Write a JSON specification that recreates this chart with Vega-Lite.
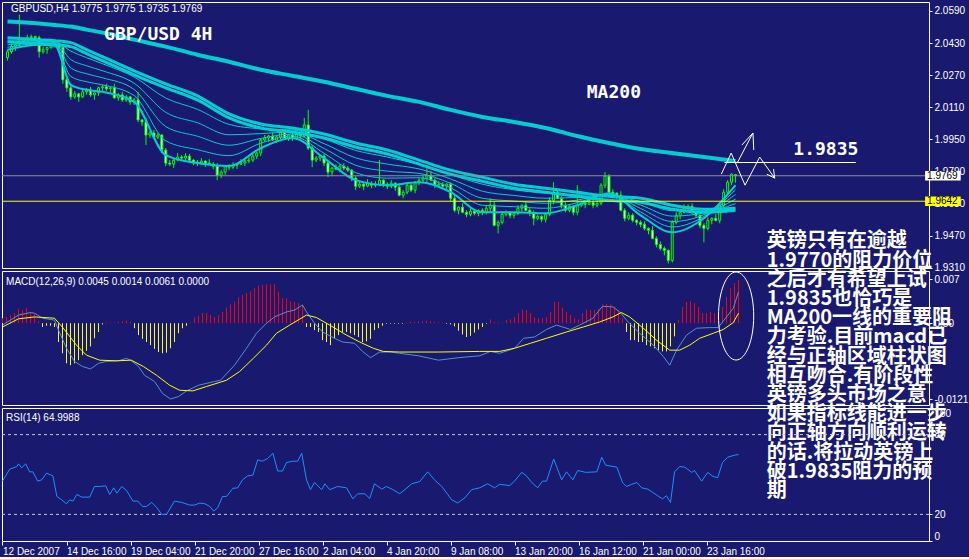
{
"$schema":"https://vega.github.io/schema/vega-lite/v6.json",
"background":"#191970",
"padding":{"left":1,"top":1,"right":0,"bottom":0},
"bounds":"flush",
"spacing":3,
"config":{
 "view":{"stroke":"#ffffff","strokeWidth":1},
 "axis":{"domain":false,"grid":false,"title":null,"labelColor":"#ffffff","tickColor":"#ffffff","labelFont":"Liberation Sans","labelFontSize":10,"tickSize":3,"labelPadding":2,"zindex":0,"labelOverlap":false,"tickCount":30}
},
"datasets":{
"one":[{}],
"c":[
{"i":0,"o":2.0357,"h":2.0397,"l":2.0342,"c":2.0387,"m":0.0008},
{"i":1,"o":2.0387,"h":2.0427,"l":2.0377,"c":2.0412,"m":0.001},
{"i":2,"o":2.0412,"h":2.0427,"l":2.0392,"c":2.0422,"m":0.0013},
{"i":3,"o":2.0422,"h":2.0572,"l":2.0417,"c":2.0437,"m":0.0016},
{"i":4,"o":2.0437,"h":2.0457,"l":2.0422,"c":2.0447,"m":0.0023},
{"i":5,"o":2.0447,"h":2.0472,"l":2.0437,"c":2.0457,"m":0.0021},
{"i":6,"o":2.0457,"h":2.0472,"l":2.0447,"c":2.0462,"m":0.0024},
{"i":7,"o":2.0462,"h":2.0467,"l":2.0442,"c":2.0457,"m":0.0018},
{"i":8,"o":2.0457,"h":2.0467,"l":2.0357,"c":2.0387,"m":0.0015},
{"i":9,"o":2.0387,"h":2.0412,"l":2.0377,"c":2.0397,"m":0.0003},
{"i":10,"o":2.0397,"h":2.0412,"l":2.0377,"c":2.0407,"m":-0.0006},
{"i":11,"o":2.0407,"h":2.0442,"l":2.0402,"c":2.0422,"m":-0.0004},
{"i":12,"o":2.0422,"h":2.0437,"l":2.0407,"c":2.0427,"m":-0.0004},
{"i":13,"o":2.0427,"h":2.0442,"l":2.0397,"c":2.0407,"m":-0.0006},
{"i":14,"o":2.0407,"h":2.0417,"l":2.0227,"c":2.0247,"m":-0.003},
{"i":15,"o":2.0247,"h":2.0252,"l":2.0187,"c":2.0207,"m":-0.0048},
{"i":16,"o":2.0207,"h":2.0217,"l":2.0147,"c":2.0162,"m":-0.0064},
{"i":17,"o":2.0162,"h":2.0192,"l":2.0152,"c":2.0177,"m":-0.0067},
{"i":18,"o":2.0177,"h":2.0182,"l":2.0137,"c":2.0162,"m":-0.0064},
{"i":19,"o":2.0162,"h":2.0207,"l":2.0157,"c":2.0187,"m":-0.0059},
{"i":20,"o":2.0187,"h":2.0207,"l":2.0172,"c":2.0197,"m":-0.0051},
{"i":21,"o":2.0197,"h":2.0212,"l":2.0162,"c":2.0172,"m":-0.0044},
{"i":22,"o":2.0172,"h":2.0192,"l":2.0147,"c":2.0182,"m":-0.0037},
{"i":23,"o":2.0182,"h":2.0212,"l":2.0167,"c":2.0207,"m":-0.0024},
{"i":24,"o":2.0207,"h":2.0222,"l":2.0192,"c":2.0212,"m":-0.0014},
{"i":25,"o":2.0212,"h":2.0227,"l":2.0192,"c":2.0202,"m":-0.0002},
{"i":26,"o":2.0202,"h":2.0212,"l":2.0182,"c":2.0207,"m":0.0001},
{"i":27,"o":2.0207,"h":2.0227,"l":2.0152,"c":2.0157,"m":0.0001},
{"i":28,"o":2.0157,"h":2.0182,"l":2.0142,"c":2.0172,"m":0.0001},
{"i":29,"o":2.0172,"h":2.0187,"l":2.0137,"c":2.0147,"m":0.0002},
{"i":30,"o":2.0147,"h":2.0172,"l":2.0137,"c":2.0162,"m":0.0003},
{"i":31,"o":2.0162,"h":2.0167,"l":2.0122,"c":2.0137,"m":0.0004},
{"i":32,"o":2.0137,"h":2.0157,"l":2.0122,"c":2.0147,"m":0.0002},
{"i":33,"o":2.0147,"h":2.0187,"l":2.0037,"c":2.0047,"m":-0.0008},
{"i":34,"o":2.0047,"h":2.0052,"l":2.0017,"c":2.0037,"m":-0.0019},
{"i":35,"o":2.0037,"h":2.0057,"l":1.9922,"c":1.9972,"m":-0.0025},
{"i":36,"o":1.9972,"h":1.9992,"l":1.9957,"c":1.9982,"m":-0.003},
{"i":37,"o":1.9982,"h":1.9997,"l":1.9952,"c":1.9962,"m":-0.0035},
{"i":38,"o":1.9962,"h":1.9982,"l":1.9952,"c":1.9972,"m":-0.0041},
{"i":39,"o":1.9972,"h":1.9977,"l":1.9882,"c":1.9897,"m":-0.0046},
{"i":40,"o":1.9897,"h":1.9907,"l":1.9817,"c":1.9832,"m":-0.0048},
{"i":41,"o":1.9832,"h":1.9847,"l":1.9817,"c":1.9827,"m":-0.0047},
{"i":42,"o":1.9827,"h":1.9852,"l":1.9807,"c":1.9847,"m":-0.004},
{"i":43,"o":1.9847,"h":1.9882,"l":1.9842,"c":1.9862,"m":-0.003},
{"i":44,"o":1.9862,"h":1.9872,"l":1.9842,"c":1.9857,"m":-0.0016},
{"i":45,"o":1.9857,"h":1.9882,"l":1.9847,"c":1.9867,"m":-0.0008},
{"i":46,"o":1.9867,"h":1.9877,"l":1.9837,"c":1.9847,"m":-0.0004},
{"i":47,"o":1.9847,"h":1.9852,"l":1.9822,"c":1.9837,"m":0.0001},
{"i":48,"o":1.9837,"h":1.9847,"l":1.9817,"c":1.9832,"m":0.0009},
{"i":49,"o":1.9832,"h":1.9857,"l":1.9822,"c":1.9842,"m":0.0012},
{"i":50,"o":1.9842,"h":1.9847,"l":1.9812,"c":1.9832,"m":0.0016},
{"i":51,"o":1.9832,"h":1.9852,"l":1.9822,"c":1.9827,"m":0.0016},
{"i":52,"o":1.9827,"h":1.9837,"l":1.9802,"c":1.9817,"m":0.0013},
{"i":53,"o":1.9817,"h":1.9832,"l":1.9747,"c":1.9772,"m":0.001},
{"i":54,"o":1.9772,"h":1.9797,"l":1.9757,"c":1.9787,"m":0.0013},
{"i":55,"o":1.9787,"h":1.9822,"l":1.9772,"c":1.9817,"m":0.0018},
{"i":56,"o":1.9817,"h":1.9827,"l":1.9797,"c":1.9812,"m":0.0025},
{"i":57,"o":1.9812,"h":1.9837,"l":1.9802,"c":1.9822,"m":0.003},
{"i":58,"o":1.9822,"h":1.9832,"l":1.9802,"c":1.9827,"m":0.0035},
{"i":59,"o":1.9827,"h":1.9852,"l":1.9822,"c":1.9832,"m":0.0041},
{"i":60,"o":1.9832,"h":1.9852,"l":1.9817,"c":1.9842,"m":0.0045},
{"i":61,"o":1.9842,"h":1.9862,"l":1.9832,"c":1.9847,"m":0.0048},
{"i":62,"o":1.9847,"h":1.9877,"l":1.9837,"c":1.9867,"m":0.0051},
{"i":63,"o":1.9867,"h":1.9887,"l":1.9852,"c":1.9882,"m":0.0056},
{"i":64,"o":1.9882,"h":1.9957,"l":1.9867,"c":1.9947,"m":0.006},
{"i":65,"o":1.9947,"h":1.9972,"l":1.9937,"c":1.9957,"m":0.0061},
{"i":66,"o":1.9957,"h":1.9972,"l":1.9937,"c":1.9967,"m":0.0062},
{"i":67,"o":1.9967,"h":1.9987,"l":1.9942,"c":1.9947,"m":0.0062},
{"i":68,"o":1.9947,"h":1.9972,"l":1.9932,"c":1.9962,"m":0.0062},
{"i":69,"o":1.9962,"h":2.0002,"l":1.9952,"c":1.9987,"m":0.005},
{"i":70,"o":1.9987,"h":1.9997,"l":1.9947,"c":1.9957,"m":0.004},
{"i":71,"o":1.9957,"h":1.9977,"l":1.9942,"c":1.9972,"m":0.004},
{"i":72,"o":1.9972,"h":1.9982,"l":1.9942,"c":1.9957,"m":0.0035},
{"i":73,"o":1.9957,"h":1.9992,"l":1.9947,"c":1.9977,"m":0.0034},
{"i":74,"o":1.9977,"h":1.9982,"l":1.9947,"c":1.9967,"m":0.0032},
{"i":75,"o":1.9967,"h":2.0057,"l":1.9962,"c":2.0022,"m":0.003},
{"i":76,"o":2.0022,"h":2.0097,"l":1.9897,"c":1.9907,"m":-0.0006},
{"i":77,"o":1.9907,"h":1.9922,"l":1.9812,"c":1.9847,"m":-0.0006},
{"i":78,"o":1.9847,"h":1.9867,"l":1.9837,"c":1.9857,"m":-0.0011},
{"i":79,"o":1.9857,"h":1.9872,"l":1.9842,"c":1.9867,"m":-0.0014},
{"i":80,"o":1.9867,"h":1.9877,"l":1.9817,"c":1.9832,"m":-0.0027},
{"i":81,"o":1.9832,"h":1.9847,"l":1.9762,"c":1.9787,"m":-0.003},
{"i":82,"o":1.9787,"h":1.9812,"l":1.9767,"c":1.9807,"m":-0.0035},
{"i":83,"o":1.9807,"h":1.9827,"l":1.9797,"c":1.9802,"m":-0.0024},
{"i":84,"o":1.9802,"h":1.9827,"l":1.9787,"c":1.9817,"m":-0.0019},
{"i":85,"o":1.9817,"h":1.9832,"l":1.9797,"c":1.9807,"m":-0.0014},
{"i":86,"o":1.9807,"h":1.9817,"l":1.9787,"c":1.9797,"m":-0.0014},
{"i":87,"o":1.9797,"h":1.9802,"l":1.9742,"c":1.9757,"m":-0.0016},
{"i":88,"o":1.9757,"h":1.9767,"l":1.9697,"c":1.9717,"m":-0.0019},
{"i":89,"o":1.9717,"h":1.9742,"l":1.9707,"c":1.9727,"m":-0.0022},
{"i":90,"o":1.9727,"h":1.9732,"l":1.9697,"c":1.9717,"m":-0.003},
{"i":91,"o":1.9717,"h":1.9752,"l":1.9712,"c":1.9732,"m":-0.0029},
{"i":92,"o":1.9732,"h":1.9742,"l":1.9707,"c":1.9722,"m":-0.0025},
{"i":93,"o":1.9722,"h":1.9742,"l":1.9712,"c":1.9727,"m":-0.0011},
{"i":94,"o":1.9727,"h":1.9847,"l":1.9717,"c":1.9747,"m":-0.0008},
{"i":95,"o":1.9747,"h":1.9752,"l":1.9712,"c":1.9727,"m":-0.0004},
{"i":96,"o":1.9727,"h":1.9737,"l":1.9702,"c":1.9717,"m":-0.0001},
{"i":97,"o":1.9717,"h":1.9747,"l":1.9707,"c":1.9732,"m":-0.0001},
{"i":98,"o":1.9732,"h":1.9737,"l":1.9692,"c":1.9712,"m":-0.0001},
{"i":99,"o":1.9712,"h":1.9732,"l":1.9667,"c":1.9672,"m":-0.0001},
{"i":100,"o":1.9672,"h":1.9697,"l":1.9657,"c":1.9687,"m":-0.0001},
{"i":101,"o":1.9687,"h":1.9737,"l":1.9677,"c":1.9722,"m":0.0001},
{"i":102,"o":1.9722,"h":1.9732,"l":1.9687,"c":1.9697,"m":0.0002},
{"i":103,"o":1.9697,"h":1.9742,"l":1.9682,"c":1.9737,"m":0.0002},
{"i":104,"o":1.9737,"h":1.9757,"l":1.9722,"c":1.9747,"m":0.0003},
{"i":105,"o":1.9747,"h":1.9772,"l":1.9737,"c":1.9757,"m":0.0003},
{"i":106,"o":1.9757,"h":1.9812,"l":1.9737,"c":1.9772,"m":0.0004},
{"i":107,"o":1.9772,"h":1.9792,"l":1.9742,"c":1.9747,"m":0.0003},
{"i":108,"o":1.9747,"h":1.9757,"l":1.9707,"c":1.9722,"m":0.0002},
{"i":109,"o":1.9722,"h":1.9742,"l":1.9712,"c":1.9727,"m":0.0001},
{"i":110,"o":1.9727,"h":1.9737,"l":1.9707,"c":1.9717,"m":0.0001},
{"i":111,"o":1.9717,"h":1.9732,"l":1.9702,"c":1.9727,"m":-0.0001},
{"i":112,"o":1.9727,"h":1.9737,"l":1.9642,"c":1.9657,"m":-0.0002},
{"i":113,"o":1.9657,"h":1.9672,"l":1.9587,"c":1.9597,"m":-0.0005},
{"i":114,"o":1.9597,"h":1.9617,"l":1.9577,"c":1.9612,"m":-0.0012},
{"i":115,"o":1.9612,"h":1.9632,"l":1.9582,"c":1.9587,"m":-0.0018},
{"i":116,"o":1.9587,"h":1.9597,"l":1.9562,"c":1.9577,"m":-0.0022},
{"i":117,"o":1.9577,"h":1.9607,"l":1.9567,"c":1.9592,"m":-0.002},
{"i":118,"o":1.9592,"h":1.9602,"l":1.9572,"c":1.9582,"m":-0.0015},
{"i":119,"o":1.9582,"h":1.9602,"l":1.9567,"c":1.9597,"m":-0.001},
{"i":120,"o":1.9597,"h":1.9607,"l":1.9572,"c":1.9587,"m":-0.0006},
{"i":121,"o":1.9587,"h":1.9622,"l":1.9577,"c":1.9607,"m":-0.0001},
{"i":122,"o":1.9607,"h":1.9657,"l":1.9587,"c":1.9622,"m":0.0006},
{"i":123,"o":1.9622,"h":1.9642,"l":1.9517,"c":1.9522,"m":0.0002},
{"i":124,"o":1.9522,"h":1.9547,"l":1.9482,"c":1.9537,"m":0.0001},
{"i":125,"o":1.9537,"h":1.9592,"l":1.9527,"c":1.9577,"m":0.0001},
{"i":126,"o":1.9577,"h":1.9597,"l":1.9567,"c":1.9587,"m":0.0005},
{"i":127,"o":1.9587,"h":1.9592,"l":1.9557,"c":1.9572,"m":0.0006},
{"i":128,"o":1.9572,"h":1.9592,"l":1.9557,"c":1.9582,"m":0.001},
{"i":129,"o":1.9582,"h":1.9622,"l":1.9572,"c":1.9607,"m":0.0016},
{"i":130,"o":1.9607,"h":1.9627,"l":1.9587,"c":1.9622,"m":0.0022},
{"i":131,"o":1.9622,"h":1.9642,"l":1.9592,"c":1.9597,"m":0.0021},
{"i":132,"o":1.9597,"h":1.9607,"l":1.9567,"c":1.9582,"m":0.0016},
{"i":133,"o":1.9582,"h":1.9597,"l":1.9522,"c":1.9557,"m":0.0009},
{"i":134,"o":1.9557,"h":1.9577,"l":1.9547,"c":1.9567,"m":0.0008},
{"i":135,"o":1.9567,"h":1.9572,"l":1.9537,"c":1.9552,"m":0.0008},
{"i":136,"o":1.9552,"h":1.9587,"l":1.9537,"c":1.9577,"m":0.001},
{"i":137,"o":1.9577,"h":1.9662,"l":1.9567,"c":1.9647,"m":0.0018},
{"i":138,"o":1.9647,"h":1.9737,"l":1.9627,"c":1.9687,"m":0.0034},
{"i":139,"o":1.9687,"h":1.9707,"l":1.9652,"c":1.9657,"m":0.0034},
{"i":140,"o":1.9657,"h":1.9667,"l":1.9607,"c":1.9622,"m":0.0025},
{"i":141,"o":1.9622,"h":1.9637,"l":1.9587,"c":1.9597,"m":0.0018},
{"i":142,"o":1.9597,"h":1.9627,"l":1.9587,"c":1.9617,"m":0.0013},
{"i":143,"o":1.9617,"h":1.9622,"l":1.9572,"c":1.9587,"m":0.0008},
{"i":144,"o":1.9587,"h":1.9722,"l":1.9572,"c":1.9622,"m":0.0006},
{"i":145,"o":1.9622,"h":1.9647,"l":1.9612,"c":1.9632,"m":0.0016},
{"i":146,"o":1.9632,"h":1.9637,"l":1.9607,"c":1.9627,"m":0.0022},
{"i":147,"o":1.9627,"h":1.9657,"l":1.9622,"c":1.9637,"m":0.0021},
{"i":148,"o":1.9637,"h":1.9647,"l":1.9607,"c":1.9622,"m":0.0021},
{"i":149,"o":1.9622,"h":1.9647,"l":1.9612,"c":1.9632,"m":0.0023},
{"i":150,"o":1.9632,"h":1.9732,"l":1.9622,"c":1.9722,"m":0.003},
{"i":151,"o":1.9722,"h":1.9787,"l":1.9707,"c":1.9767,"m":0.0031},
{"i":152,"o":1.9767,"h":1.9777,"l":1.9672,"c":1.9687,"m":0.003},
{"i":153,"o":1.9687,"h":1.9702,"l":1.9672,"c":1.9682,"m":0.0027},
{"i":154,"o":1.9682,"h":1.9687,"l":1.9652,"c":1.9672,"m":0.0021},
{"i":155,"o":1.9672,"h":1.9692,"l":1.9592,"c":1.9597,"m":0.0008},
{"i":156,"o":1.9597,"h":1.9607,"l":1.9542,"c":1.9557,"m":-0.0014},
{"i":157,"o":1.9557,"h":1.9587,"l":1.9547,"c":1.9572,"m":-0.0027},
{"i":158,"o":1.9572,"h":1.9582,"l":1.9537,"c":1.9547,"m":-0.0027},
{"i":159,"o":1.9547,"h":1.9552,"l":1.9522,"c":1.9537,"m":-0.003},
{"i":160,"o":1.9537,"h":1.9547,"l":1.9512,"c":1.9527,"m":-0.003},
{"i":161,"o":1.9527,"h":1.9542,"l":1.9497,"c":1.9507,"m":-0.0035},
{"i":162,"o":1.9507,"h":1.9512,"l":1.9477,"c":1.9497,"m":-0.0037},
{"i":163,"o":1.9497,"h":1.9517,"l":1.9452,"c":1.9457,"m":-0.004},
{"i":164,"o":1.9457,"h":1.9467,"l":1.9412,"c":1.9427,"m":-0.0043},
{"i":165,"o":1.9427,"h":1.9442,"l":1.9397,"c":1.9407,"m":-0.0045},
{"i":166,"o":1.9407,"h":1.9417,"l":1.9372,"c":1.9397,"m":-0.0045},
{"i":167,"o":1.9397,"h":1.9402,"l":1.9332,"c":1.9347,"m":-0.0037},
{"i":168,"o":1.9347,"h":1.9547,"l":1.9337,"c":1.9537,"m":-0.0021},
{"i":169,"o":1.9537,"h":1.9587,"l":1.9527,"c":1.9572,"m":0.0005},
{"i":170,"o":1.9572,"h":1.9592,"l":1.9552,"c":1.9587,"m":0.0026},
{"i":171,"o":1.9587,"h":1.9627,"l":1.9582,"c":1.9607,"m":0.0034},
{"i":172,"o":1.9607,"h":1.9627,"l":1.9592,"c":1.9617,"m":0.0035},
{"i":173,"o":1.9617,"h":1.9632,"l":1.9577,"c":1.9587,"m":0.0032},
{"i":174,"o":1.9587,"h":1.9597,"l":1.9562,"c":1.9572,"m":0.0026},
{"i":175,"o":1.9572,"h":1.9577,"l":1.9507,"c":1.9522,"m":0.0016},
{"i":176,"o":1.9522,"h":1.9532,"l":1.9437,"c":1.9507,"m":0.0016},
{"i":177,"o":1.9507,"h":1.9562,"l":1.9497,"c":1.9547,"m":0.0018},
{"i":178,"o":1.9547,"h":1.9562,"l":1.9527,"c":1.9557,"m":0.0016},
{"i":179,"o":1.9557,"h":1.9577,"l":1.9542,"c":1.9547,"m":0.0018},
{"i":180,"o":1.9547,"h":1.9632,"l":1.9532,"c":1.9622,"m":0.0026},
{"i":181,"o":1.9622,"h":1.9702,"l":1.9612,"c":1.9687,"m":0.0042},
{"i":182,"o":1.9687,"h":1.9747,"l":1.9677,"c":1.9737,"m":0.0056},
{"i":183,"o":1.9737,"h":1.9782,"l":1.9722,"c":1.9777,"m":0.0064},
{"i":184,"o":1.9775,"h":1.9775,"l":1.9735,"c":1.9769,"m":0.0069}
],
"ma":[
{"i":0,"ma":2.0537,"s1":2.0457,"s2":2.0437,"p":2.0397,"t1":2.0409,"t2":2.0421,"t3":2.0433,"t4":2.0445},
{"i":8,"ma":2.0527,"s1":2.0447,"s2":2.0427,"p":2.0422,"t1":2.0427,"t2":2.0432,"t3":2.0437,"t4":2.0442},
{"i":12,"ma":2.052,"s1":2.0442,"s2":2.0422,"p":2.0417,"t1":2.0422,"t2":2.0427,"t3":2.0432,"t4":2.0437},
{"i":16,"ma":2.0512,"s1":2.0432,"s2":2.0412,"p":2.0222,"t1":2.0264,"t2":2.0306,"t3":2.0348,"t4":2.039},
{"i":20,"ma":2.0497,"s1":2.0397,"s2":2.0377,"p":2.0197,"t1":2.0237,"t2":2.0277,"t3":2.0317,"t4":2.0357},
{"i":24,"ma":2.0482,"s1":2.0362,"s2":2.0342,"p":2.0187,"t1":2.0222,"t2":2.0257,"t3":2.0292,"t4":2.0327},
{"i":32,"ma":2.0447,"s1":2.0292,"s2":2.0272,"p":2.0137,"t1":2.0168,"t2":2.0199,"t3":2.023,"t4":2.0261},
{"i":40,"ma":2.0412,"s1":2.0227,"s2":2.0207,"p":1.9872,"t1":1.9943,"t2":2.0014,"t3":2.0085,"t4":2.0156},
{"i":48,"ma":2.0372,"s1":2.0167,"s2":2.0147,"p":1.9832,"t1":1.9899,"t2":1.9966,"t3":2.0033,"t4":2.01},
{"i":56,"ma":2.0337,"s1":2.0077,"s2":2.0057,"p":1.9817,"t1":1.9869,"t2":1.9921,"t3":1.9973,"t4":2.0025},
{"i":64,"ma":2.0297,"s1":2.0027,"s2":2.0007,"p":1.9907,"t1":1.9931,"t2":1.9955,"t3":1.9979,"t4":2.0003},
{"i":72,"ma":2.0267,"s1":2.0007,"s2":1.9987,"p":1.9957,"t1":1.9967,"t2":1.9977,"t3":1.9987,"t4":1.9997},
{"i":80,"ma":2.0237,"s1":1.9977,"s2":1.9957,"p":1.9857,"t1":1.9881,"t2":1.9905,"t3":1.9929,"t4":1.9953},
{"i":88,"ma":2.0202,"s1":1.9932,"s2":1.9912,"p":1.9747,"t1":1.9784,"t2":1.9821,"t3":1.9858,"t4":1.9895},
{"i":96,"ma":2.0167,"s1":1.9897,"s2":1.9877,"p":1.9722,"t1":1.9757,"t2":1.9792,"t3":1.9827,"t4":1.9862},
{"i":104,"ma":2.0137,"s1":1.9847,"s2":1.9827,"p":1.9737,"t1":1.9759,"t2":1.9781,"t3":1.9803,"t4":1.9825},
{"i":112,"ma":2.0097,"s1":1.9797,"s2":1.9777,"p":1.9687,"t1":1.9709,"t2":1.9731,"t3":1.9753,"t4":1.9775},
{"i":120,"ma":2.0062,"s1":1.9762,"s2":1.9742,"p":1.9587,"t1":1.9622,"t2":1.9657,"t3":1.9692,"t4":1.9727},
{"i":128,"ma":2.0037,"s1":1.9727,"s2":1.9707,"p":1.9587,"t1":1.9615,"t2":1.9643,"t3":1.9671,"t4":1.9699},
{"i":136,"ma":2.0007,"s1":1.9707,"s2":1.9687,"p":1.9582,"t1":1.9607,"t2":1.9632,"t3":1.9657,"t4":1.9682},
{"i":144,"ma":1.9967,"s1":1.9687,"s2":1.9667,"p":1.9622,"t1":1.9635,"t2":1.9648,"t3":1.9661,"t4":1.9674},
{"i":152,"ma":1.9932,"s1":1.9667,"s2":1.9647,"p":1.9682,"t1":1.9679,"t2":1.9676,"t3":1.9673,"t4":1.967},
{"i":160,"ma":1.9902,"s1":1.9657,"s2":1.9637,"p":1.9572,"t1":1.9589,"t2":1.9606,"t3":1.9623,"t4":1.964},
{"i":168,"ma":1.9882,"s1":1.9622,"s2":1.9602,"p":1.9487,"t1":1.9514,"t2":1.9541,"t3":1.9568,"t4":1.9595},
{"i":176,"ma":1.9862,"s1":1.9602,"s2":1.9587,"p":1.9557,"t1":1.9566,"t2":1.9575,"t3":1.9584,"t4":1.9593},
{"i":184,"ma":1.9842,"s1":1.9607,"s2":1.9597,"p":1.9722,"t1":1.9699,"t2":1.9676,"t3":1.9653,"t4":1.963}
],
"mb":[
{"i":0,"v":-0.0003},{"i":2,"v":0.0005},{"i":4,"v":0.0013},{"i":7,"v":0.0017},{"i":8,"v":0.0016},{"i":10,"v":0.0008},{"i":13,"v":0.0005},{"i":14,"v":-0.0011},{"i":16,"v":-0.004},{"i":18,"v":-0.0061},{"i":20,"v":-0.0069},{"i":22,"v":-0.0073},{"i":24,"v":-0.0064},{"i":26,"v":-0.0061},{"i":29,"v":-0.006},{"i":31,"v":-0.0056},{"i":32,"v":-0.0059},{"i":34,"v":-0.0069},{"i":35.5,"v":-0.0083},{"i":38,"v":-0.0093},{"i":40,"v":-0.0112},{"i":42,"v":-0.0121},{"i":44,"v":-0.0117},{"i":46,"v":-0.0108},{"i":49,"v":-0.0099},{"i":53,"v":-0.0093},{"i":54.5,"v":-0.0091},{"i":58,"v":-0.0067},{"i":61,"v":-0.004},{"i":63.5,"v":-0.0016},{"i":66,"v":0},{"i":68,"v":0.001},{"i":71,"v":0.0018},{"i":73,"v":0.0021},{"i":75,"v":0.0029},{"i":76,"v":0.0018},{"i":78,"v":0},{"i":80,"v":-0.0014},{"i":83,"v":-0.0024},{"i":85,"v":-0.003},{"i":88,"v":-0.0032},{"i":90,"v":-0.0045},{"i":92,"v":-0.0055},{"i":94.3,"v":-0.0046},{"i":97,"v":-0.0046},{"i":99.3,"v":-0.0048},{"i":104,"v":-0.0052},{"i":109,"v":-0.0059},{"i":114,"v":-0.0055},{"i":119.3,"v":-0.0052},{"i":122,"v":-0.0045},{"i":124.3,"v":-0.0048},{"i":128,"v":-0.004},{"i":130.3,"v":-0.0024},{"i":133,"v":-0.0022},{"i":136,"v":-0.001},{"i":138.5,"v":-0.0003},{"i":142,"v":-0.001},{"i":144.3,"v":-0.0003},{"i":147.6,"v":0.0008},{"i":150,"v":0.0027},{"i":152.6,"v":0.0026},{"i":154.3,"v":0.0018},{"i":156.4,"v":0.0002},{"i":159.3,"v":-0.0016},{"i":162.7,"v":-0.0035},{"i":165.2,"v":-0.0053},{"i":166.8,"v":-0.0067},{"i":168.5,"v":-0.0043},{"i":171,"v":-0.0019},{"i":173.5,"v":-0.0008},{"i":176.8,"v":-0.0007},{"i":178.9,"v":-0.0007},{"i":181,"v":0.001},{"i":182.7,"v":0.0024},{"i":184,"v":0.005}
],
"ms":[
{"i":0,"v":-0.0006},{"i":4,"v":0.0007},{"i":8,"v":0.001},{"i":13,"v":0.0008},{"i":15.2,"v":-0.0008},{"i":18.5,"v":-0.0035},{"i":21,"v":-0.0051},{"i":24.3,"v":-0.0059},{"i":28.5,"v":-0.006},{"i":32.2,"v":-0.0059},{"i":35.2,"v":-0.0069},{"i":38.5,"v":-0.0083},{"i":41.8,"v":-0.0099},{"i":44.3,"v":-0.0107},{"i":47.6,"v":-0.0108},{"i":51,"v":-0.0101},{"i":56,"v":-0.0091},{"i":59.3,"v":-0.0077},{"i":62.7,"v":-0.0056},{"i":66,"v":-0.0035},{"i":68.5,"v":-0.0016},{"i":71.8,"v":-0.0003},{"i":76,"v":0.0013},{"i":78.5,"v":0.0009},{"i":81.8,"v":-0.0003},{"i":86,"v":-0.0019},{"i":89.3,"v":-0.003},{"i":92.7,"v":-0.004},{"i":95.2,"v":-0.0045},{"i":99.3,"v":-0.0046},{"i":109,"v":-0.0046},{"i":119.3,"v":-0.0045},{"i":124.3,"v":-0.0045},{"i":128,"v":-0.004},{"i":132,"v":-0.0032},{"i":136,"v":-0.0024},{"i":141,"v":-0.0014},{"i":145.2,"v":-0.0006},{"i":149.3,"v":0.0002},{"i":152.6,"v":0.001},{"i":154.7,"v":0.0017},{"i":156.8,"v":0.001},{"i":160.2,"v":-0.0008},{"i":163.5,"v":-0.0027},{"i":166.8,"v":-0.0043},{"i":169.3,"v":-0.0043},{"i":171.8,"v":-0.0035},{"i":174.3,"v":-0.0024},{"i":177.7,"v":-0.0016},{"i":180.2,"v":-0.001},{"i":182.7,"v":0.0001},{"i":184,"v":0.0016}
],
"rsi":[
{"i":0,"v":45},{"i":1.8,"v":54},{"i":3.6,"v":56},{"i":4,"v":58},{"i":4.8,"v":55},{"i":5.8,"v":58},{"i":6.8,"v":52},{"i":7.6,"v":52},{"i":8.8,"v":45},{"i":9.8,"v":46},{"i":11,"v":51},{"i":12.6,"v":49},{"i":13.6,"v":33.5},{"i":14.8,"v":31},{"i":16,"v":28},{"i":16.8,"v":31},{"i":17.6,"v":30},{"i":18.6,"v":35},{"i":19.8,"v":33},{"i":21.8,"v":33},{"i":23,"v":41},{"i":24.3,"v":41},{"i":25.8,"v":41.5},{"i":26.8,"v":35},{"i":27.8,"v":40},{"i":28.6,"v":36},{"i":29.8,"v":41},{"i":31,"v":38},{"i":32.6,"v":30},{"i":33.8,"v":30},{"i":35,"v":26},{"i":36,"v":26},{"i":37.3,"v":29},{"i":38.6,"v":25},{"i":39.8,"v":20},{"i":41,"v":20},{"i":43,"v":30},{"i":44.8,"v":29},{"i":46.8,"v":27},{"i":48,"v":27},{"i":49.3,"v":28.5},{"i":50.6,"v":28},{"i":51.8,"v":26},{"i":52.8,"v":22.5},{"i":53.8,"v":25},{"i":55,"v":33.5},{"i":56,"v":33.5},{"i":57.6,"v":39.6},{"i":58.8,"v":40},{"i":60,"v":46},{"i":61.3,"v":49},{"i":62.6,"v":49.5},{"i":63.8,"v":61},{"i":65,"v":60},{"i":66.3,"v":62},{"i":67.6,"v":66},{"i":68.8,"v":52.6},{"i":70,"v":52.6},{"i":71,"v":59},{"i":72.6,"v":60},{"i":73.8,"v":60},{"i":74.8,"v":66},{"i":76,"v":46},{"i":77,"v":38.6},{"i":78,"v":44},{"i":79.8,"v":38.6},{"i":80.6,"v":43},{"i":81.8,"v":38.6},{"i":83.8,"v":41},{"i":86,"v":40},{"i":87.6,"v":31.7},{"i":88.8,"v":35.5},{"i":90.6,"v":35.5},{"i":91.8,"v":32},{"i":93,"v":43},{"i":94.8,"v":39},{"i":96,"v":41},{"i":97.6,"v":38.6},{"i":99.3,"v":35.6},{"i":100.6,"v":38.6},{"i":102.3,"v":43},{"i":104.3,"v":44.7},{"i":106.3,"v":52},{"i":108,"v":46},{"i":109.8,"v":41},{"i":111.3,"v":35},{"i":112.3,"v":31},{"i":113.8,"v":28.6},{"i":115.6,"v":32.5},{"i":117.3,"v":38.6},{"i":119.3,"v":40},{"i":121.3,"v":43},{"i":123,"v":40},{"i":124.3,"v":42.6},{"i":126.8,"v":41.7},{"i":128,"v":45},{"i":129.8,"v":51.6},{"i":131,"v":49},{"i":132.3,"v":44},{"i":133.8,"v":40},{"i":135,"v":45},{"i":136,"v":45},{"i":137.8,"v":61.6},{"i":139.8,"v":46},{"i":141,"v":52},{"i":142.6,"v":46},{"i":143.8,"v":53},{"i":145.8,"v":51.6},{"i":148.6,"v":52},{"i":149.8,"v":63},{"i":150.8,"v":57},{"i":153.6,"v":55.5},{"i":155,"v":44},{"i":156,"v":41},{"i":157.3,"v":42.6},{"i":158.6,"v":44},{"i":159.8,"v":40},{"i":161.3,"v":39},{"i":162.6,"v":36.5},{"i":163.8,"v":34},{"i":165,"v":31.7},{"i":166,"v":34},{"i":167,"v":29},{"i":168,"v":52},{"i":169.3,"v":56},{"i":170.6,"v":55.5},{"i":172.3,"v":51.6},{"i":173,"v":53},{"i":174.8,"v":45},{"i":176.3,"v":51.6},{"i":177.6,"v":48.6},{"i":178.8,"v":47.6},{"i":180,"v":59},{"i":181.3,"v":63},{"i":183,"v":64.5},{"i":184,"v":65}
],
"ann":[
{"g":"z","k":0,"i":180.4,"p":1.9777},{"g":"z","k":1,"i":182.9,"p":1.9882},{"g":"z","k":2,"i":186.4,"p":1.9722},{"g":"z","k":3,"i":190.1,"p":1.9862},{"g":"z","k":4,"i":193.9,"p":1.9757},
{"g":"za","k":0,"i":191.9,"p":1.9777},{"g":"za","k":1,"i":193.9,"p":1.9757},{"g":"za","k":2,"i":193.6,"p":1.9802},
{"g":"u","k":0,"i":184.4,"p":1.9832},{"g":"u","k":1,"i":188.4,"p":1.9982},
{"g":"ua","k":0,"i":185.6,"p":1.9922},{"g":"ua","k":1,"i":188.4,"p":1.9982},{"g":"ua","k":2,"i":188.6,"p":1.9897}
]
},
"vconcat":[
{
"width":927,"height":266,
"layer":[
{"data":{"name":"c"},"mark":{"type":"rule","color":"#00ff00","strokeWidth":1},
 "encoding":{
  "x":{"field":"i","type":"quantitative","scale":{"domain":[-0.125,231.625],"nice":false,"zero":false},"axis":null},
  "y":{"field":"l","type":"quantitative","scale":{"domain":[1.93095,2.06345],"nice":false,"zero":false},
       "axis":{"orient":"right","values":[2.059,2.043,2.027,2.011,1.995,1.979,1.963,1.947,1.931],"format":".4f","labelOverlap":false,"tickCount":30}},
  "y2":{"field":"h"}}},
{"data":{"name":"c"},"mark":{"type":"bar","size":2,"stroke":"#00ff00","strokeWidth":1,"orient":"vertical"},
 "encoding":{
  "x":{"field":"i","type":"quantitative"},
  "y":{"field":"o","type":"quantitative"},
  "y2":{"field":"c"},
  "fill":{"condition":{"test":"datum.c < datum.o","value":"#ffffff"},"value":"#191970"}}},
{"data":{"name":"ma"},"transform":[{"fold":["t1","t2","t3","t4"],"as":["k","v"]}],
 "mark":{"type":"line","color":"#00ced1","strokeWidth":1,"interpolate":"monotone","clip":true},
 "encoding":{"x":{"field":"i","type":"quantitative"},"y":{"field":"v","type":"quantitative"},"detail":{"field":"k","type":"nominal"}}},
{"data":{"name":"ma"},"transform":[{"fold":["s1","s2"],"as":["k","v"]}],
 "mark":{"type":"line","color":"#00ced1","strokeWidth":3,"interpolate":"monotone","clip":true},
 "encoding":{"x":{"field":"i","type":"quantitative"},"y":{"field":"v","type":"quantitative"},"detail":{"field":"k","type":"nominal"}}},
{"data":{"name":"ma"},
 "mark":{"type":"line","color":"#00ced1","strokeWidth":2,"interpolate":"monotone","clip":true},
 "encoding":{"x":{"field":"i","type":"quantitative"},"y":{"field":"p","type":"quantitative"}}},
{"data":{"name":"ma"},
 "mark":{"type":"line","color":"#00ced1","strokeWidth":4,"interpolate":"monotone","clip":true},
 "encoding":{"x":{"field":"i","type":"quantitative"},"y":{"field":"ma","type":"quantitative"}}},
{"data":{"name":"one"},"mark":{"type":"rule","color":"#909090","strokeWidth":1,"clip":true},"encoding":{"y":{"datum":1.9769,"type":"quantitative"}}},
{"data":{"name":"one"},"mark":{"type":"rule","color":"#ffff00","strokeWidth":1,"clip":true},"encoding":{"y":{"datum":1.9642,"type":"quantitative"}}},
{"data":{"name":"ann"},"mark":{"type":"line","color":"#ffffff","strokeWidth":1},
 "encoding":{"x":{"field":"i","type":"quantitative"},"y":{"field":"p","type":"quantitative"},"detail":{"field":"g","type":"nominal"},"order":{"field":"k","type":"quantitative"}}},
{"data":{"name":"one"},"mark":{"type":"rule","color":"#ffffff","strokeWidth":1},
 "encoding":{"x":{"datum":181.2,"type":"quantitative"},"x2":{"datum":214.4},"y":{"datum":1.9835,"type":"quantitative"}}},
{"data":{"name":"one"},"mark":{"type":"text","align":"left","baseline":"alphabetic","font":"Liberation Sans","fontSize":10,"color":"#ffffff"},
 "encoding":{"x":{"datum":0.9,"type":"quantitative"},"y":{"datum":2.0585,"type":"quantitative"},"text":{"value":"GBPUSD,H4  1.9775 1.9775 1.9735 1.9769"}}},
{"data":{"name":"one"},"mark":{"type":"text","align":"left","baseline":"alphabetic","font":"DejaVu Sans Mono","fontWeight":"bold","fontSize":18,"color":"#ffffff"},
 "encoding":{"x":{"datum":24.4,"type":"quantitative"},"y":{"datum":2.0447,"type":"quantitative"},"text":{"value":"GBP/USD 4H"}}},
{"data":{"name":"one"},"mark":{"type":"text","align":"left","baseline":"alphabetic","font":"DejaVu Sans Mono","fontWeight":"bold","fontSize":18,"color":"#ffffff"},
 "encoding":{"x":{"datum":146.4,"type":"quantitative"},"y":{"datum":2.0157,"type":"quantitative"},"text":{"value":"MA200"}}},
{"data":{"name":"one"},"mark":{"type":"text","align":"left","baseline":"alphabetic","font":"DejaVu Sans Mono","fontWeight":"bold","fontSize":18,"color":"#ffffff"},
 "encoding":{"x":{"datum":198.6,"type":"quantitative"},"y":{"datum":1.9872,"type":"quantitative"},"text":{"value":"1.9835"}}},
{"data":{"name":"one"},"mark":{"type":"rect","color":"#ffffff"},
 "encoding":{"x":{"datum":231.9,"type":"quantitative"},"x2":{"datum":240.9},"y":{"datum":1.97925,"type":"quantitative"},"y2":{"datum":1.97455}}},
{"data":{"name":"one"},"mark":{"type":"rect","color":"#ffff00"},
 "encoding":{"x":{"datum":231.9,"type":"quantitative"},"x2":{"datum":240.9},"y":{"datum":1.96655,"type":"quantitative"},"y2":{"datum":1.96185}}},
{"data":{"name":"one"},"mark":{"type":"text","align":"left","baseline":"middle","font":"Liberation Sans","fontSize":10,"color":"#000000"},
 "encoding":{"x":{"datum":232.4,"type":"quantitative"},"y":{"datum":1.9769,"type":"quantitative"},"text":{"value":"1.9769"}}},
{"data":{"name":"one"},"mark":{"type":"text","align":"left","baseline":"middle","font":"Liberation Sans","fontSize":10,"color":"#000000"},
 "encoding":{"x":{"datum":232.4,"type":"quantitative"},"y":{"datum":1.9642,"type":"quantitative"},"text":{"value":"1.9642"}}},
{"data":{"name":"one"},"mark":{"type":"text","align":"left","baseline":"top","font":"Noto Sans CJK SC","fontWeight":"bold","fontSize":20,"lineHeight":19.2,"lineBreak":"\n","color":"#ffffff"},
 "encoding":{"x":{"datum":191.9,"type":"quantitative"},"y":{"datum":1.9492,"type":"quantitative"},
  "text":{"value":"英镑只有在逾越\n1.9770的阻力价位\n之后才有希望上试\n1.9835也恰巧是\nMA200一线的重要阻\n力考验.目前macd已\n经与正轴区域柱状图\n相互吻合.有阶段性\n英镑多头市场之意\n如果指标线能进一步\n向正轴方向顺利运转\n的话.将拉动英镑上\n破1.9835阻力的预\n期"}}}
]
},
{
"width":927,"height":134,
"layer":[
{"data":{"name":"c"},"transform":[{"filter":"datum.m > 0"}],"mark":{"type":"rule","strokeWidth":1,"color":"#ff0000"},
 "encoding":{
  "x":{"field":"i","type":"quantitative","scale":{"domain":[-0.125,231.625],"nice":false,"zero":false},"axis":null},
  "y":{"field":"m","type":"quantitative","scale":{"domain":[-0.01305,0.00833],"nice":false,"zero":false},
       "axis":{"orient":"right","values":[0.007,0,-0.0121],"labelOverlap":false,"labelExpr":"datum.value == 0 ? '0.00' : (datum.value > 0 ? '0.007' : '-0.0121')"}},
  "y2":{"datum":0}}},
{"data":{"name":"c"},"transform":[{"filter":"datum.m <= 0"}],"mark":{"type":"rule","strokeWidth":1,"color":"#ffff00"},
 "encoding":{
  "x":{"field":"i","type":"quantitative"},
  "y":{"field":"m","type":"quantitative"},
  "y2":{"datum":0}}},
{"data":{"name":"mb"},"mark":{"type":"line","color":"#5a8fc8","strokeWidth":1,"clip":true},
 "encoding":{"x":{"field":"i","type":"quantitative"},"y":{"field":"v","type":"quantitative"}}},
{"data":{"name":"ms"},"mark":{"type":"line","color":"#ffff00","strokeWidth":1,"clip":true},
 "encoding":{"x":{"field":"i","type":"quantitative"},"y":{"field":"v","type":"quantitative"}}},
{"data":{"name":"one"},"mark":{"type":"point","shape":"M -0.4 0 A 0.4 1 0 1 1 0.4 0 A 0.4 1 0 1 1 -0.4 0 Z","size":7744,"filled":false,"color":"#ffffff","strokeWidth":1,"opacity":1},
 "encoding":{"x":{"datum":183.4,"type":"quantitative"},"y":{"datum":0.00115,"type":"quantitative"}}},
{"data":{"name":"one"},"mark":{"type":"text","align":"left","baseline":"alphabetic","font":"Liberation Sans","fontSize":10,"color":"#ffffff"},
 "encoding":{"x":{"datum":0.9,"type":"quantitative"},"y":{"datum":0.0061,"type":"quantitative"},"text":{"value":"MACD(12,26,9) 0.0045 0.0014 0.0061 0.0000"}}}
]
},
{
"width":927,"height":133,
"layer":[
{"data":{"name":"one"},"mark":{"type":"rule","color":"#c8c8c8","strokeDash":[3,3],"strokeWidth":1,"clip":true},
 "encoding":{"y":{"datum":80,"type":"quantitative","scale":{"domain":[0,100],"nice":false,"zero":false},"axis":{"orient":"right","values":[0,20,80,100],"labelFlush":true,"labelOverlap":false}}}},
{"data":{"name":"one"},"mark":{"type":"rule","color":"#c8c8c8","strokeDash":[3,3],"strokeWidth":1,"clip":true},
 "encoding":{"y":{"datum":20,"type":"quantitative"}}},
{"data":{"name":"rsi"},"mark":{"type":"line","color":"#1e90ff","strokeWidth":1,"clip":true},
 "encoding":{
  "x":{"field":"i","type":"quantitative","scale":{"domain":[-0.125,231.625],"nice":false,"zero":false},
       "axis":{"orient":"bottom","values":[0,16,32,48,64,80,96,112,128,144,160,176],"labelAlign":"left","labelBaseline":"top","tickSize":4,"labelPadding":1,"labelFlush":false,"labelOverlap":false,
        "labelExpr":"['12 Dec 2007','14 Dec 16:00','19 Dec 04:00','21 Dec 20:00','27 Dec 16:00','2 Jan 04:00','4 Jan 20:00','9 Jan 08:00','13 Jan 20:00','16 Jan 12:00','21 Jan 00:00','23 Jan 16:00'][round(datum.value/16)]"}},
  "y":{"field":"v","type":"quantitative"}}},
{"data":{"name":"one"},"mark":{"type":"text","align":"left","baseline":"alphabetic","font":"Liberation Sans","fontSize":10,"color":"#ffffff"},
 "encoding":{"x":{"datum":0.9,"type":"quantitative"},"y":{"datum":90.2,"type":"quantitative"},"text":{"value":"RSI(14) 64.9988"}}}
]
}
]
}
